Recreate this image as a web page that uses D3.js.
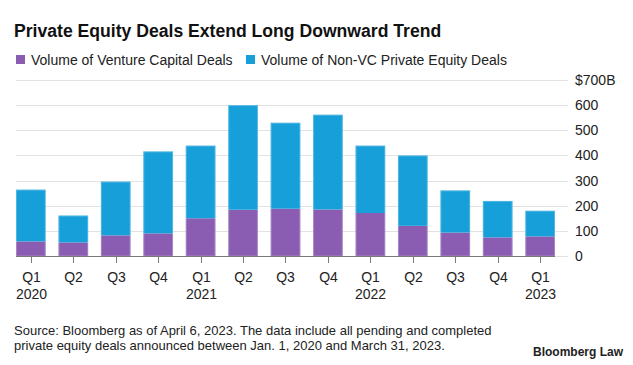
<!DOCTYPE html>
<html>
<head>
<meta charset="utf-8">
<script src="https://cdn.jsdelivr.net/npm/d3@7"></script>
<style>
  html, body { margin: 0; padding: 0; background: #fff; }
  svg { display: block; font-family: "Liberation Sans", Arial, sans-serif; }
</style>
</head>
<body>
<svg id="chart" width="633" height="365"></svg>
<script>
const quarters = ["Q1","Q2","Q3","Q4","Q1","Q2","Q3","Q4","Q1","Q2","Q3","Q4","Q1"];
const years    = ["2020","","","","2021","","","","2022","","","","2023"];
const vcDeals    = [58, 54, 82, 90, 150, 184, 188, 185, 171, 120, 93, 74, 78];
const nonVcDeals = [206, 107, 214, 326, 289, 416, 342, 377, 268, 280, 168, 145, 102];
const yTicks = [0, 100, 200, 300, 400, 500, 600, 700];
const yTickLabels = ["0","100","200","300","400","500","600","$700B"];
const seriesNames = ["Volume of Venture Capital Deals", "Volume of Non-VC Private Equity Deals"];
const seriesColors = ["#8b5db2", "#179fd9"];

const svg = d3.select("#chart");

// Title
svg.append("text").attr("x", 14).attr("y", 37)
  .attr("font-size", 17.6).attr("font-weight", "bold").attr("fill", "#111")
  .text("Private Equity Deals Extend Long Downward Trend");

// Legend
const legX = [16, 246];
seriesNames.forEach((name, i) => {
  svg.append("rect").attr("x", legX[i]).attr("y", 55).attr("width", 9).attr("height", 9)
    .attr("fill", seriesColors[i]);
  svg.append("text").attr("x", legX[i] + 15).attr("y", 64.5)
    .attr("font-size", 14).attr("fill", "#222").text(name);
});

const data = quarters.map((q, i) => ({ i, vc: vcDeals[i], nonvc: nonVcDeals[i] }));

const x = d3.scaleBand().domain(d3.range(quarters.length)).range([16, 555])
  .paddingInner(0.3).paddingOuter(0);
const y = d3.scaleLinear().domain([0, 700]).range([256, 80]);

// Gridlines
svg.append("g").selectAll("line").data(yTicks).join("line")
  .attr("x1", 16).attr("x2", 568)
  .attr("y1", d => Math.round(y(d)) + 0.5).attr("y2", d => Math.round(y(d)) + 0.5)
  .attr("stroke", "#e2e2e2").attr("stroke-width", 1);

// Y tick labels
svg.append("g").selectAll("text").data(yTicks).join("text")
  .attr("x", 575).attr("y", d => y(d) + 5)
  .attr("font-size", 14).attr("fill", "#222")
  .text((d, i) => yTickLabels[i]);

// Bars
const stack = d3.stack().keys(["vc", "nonvc"]);
const stacked = stack(data);
svg.append("g").selectAll("g").data(stacked).join("g")
  .attr("fill", (d, i) => seriesColors[i])
  .selectAll("rect").data(d => d).join("rect")
  .attr("x", d => x(d.data.i))
  .attr("width", x.bandwidth())
  .attr("y", d => y(d[1]))
  .attr("height", d => y(d[0]) - y(d[1]));

// Bar edge highlight
svg.append("g").selectAll("rect").data(data).join("rect")
  .attr("x", d => x(d.i) + 0.5)
  .attr("width", x.bandwidth() - 1)
  .attr("y", d => y(d.vc + d.nonvc) + 0.5)
  .attr("height", d => y(0) - y(d.vc + d.nonvc) - 0.5)
  .attr("fill", "none").attr("stroke", "#ffffff").attr("stroke-opacity", 0.25);

// X axis line
svg.append("line").attr("x1", 16).attr("x2", 555)
  .attr("y1", 256.5).attr("y2", 256.5)
  .attr("stroke", "#7a7a7a").attr("stroke-width", 1);

// X ticks and labels
const xg = svg.append("g").selectAll("g").data(data).join("g")
  .attr("transform", d => `translate(${Math.round(x(d.i) + x.bandwidth() / 2) + 0.5},0)`);
xg.append("line").attr("y1", 257).attr("y2", 263)
  .attr("stroke", "#7a7a7a").attr("stroke-width", 1);
xg.append("text").attr("y", 281.5).attr("text-anchor", "middle")
  .attr("font-size", 14).attr("fill", "#222").text(d => quarters[d.i]);
xg.append("text").attr("y", 298.5).attr("text-anchor", "middle")
  .attr("font-size", 14).attr("fill", "#222").text(d => years[d.i]);

// Source
const src = svg.append("text").attr("font-size", 13).attr("fill", "#222");
src.append("tspan").attr("x", 14).attr("y", 335)
  .text("Source: Bloomberg as of April 6, 2023. The data include all pending and completed");
src.append("tspan").attr("x", 14).attr("y", 350)
  .text("private equity deals announced between Jan. 1, 2020 and March 31, 2023.");

svg.append("text").attr("x", 623).attr("y", 356).attr("text-anchor", "end")
  .attr("font-size", 12).attr("font-weight", "bold").attr("fill", "#222")
  .text("Bloomberg Law");
</script>
</body>
</html>
